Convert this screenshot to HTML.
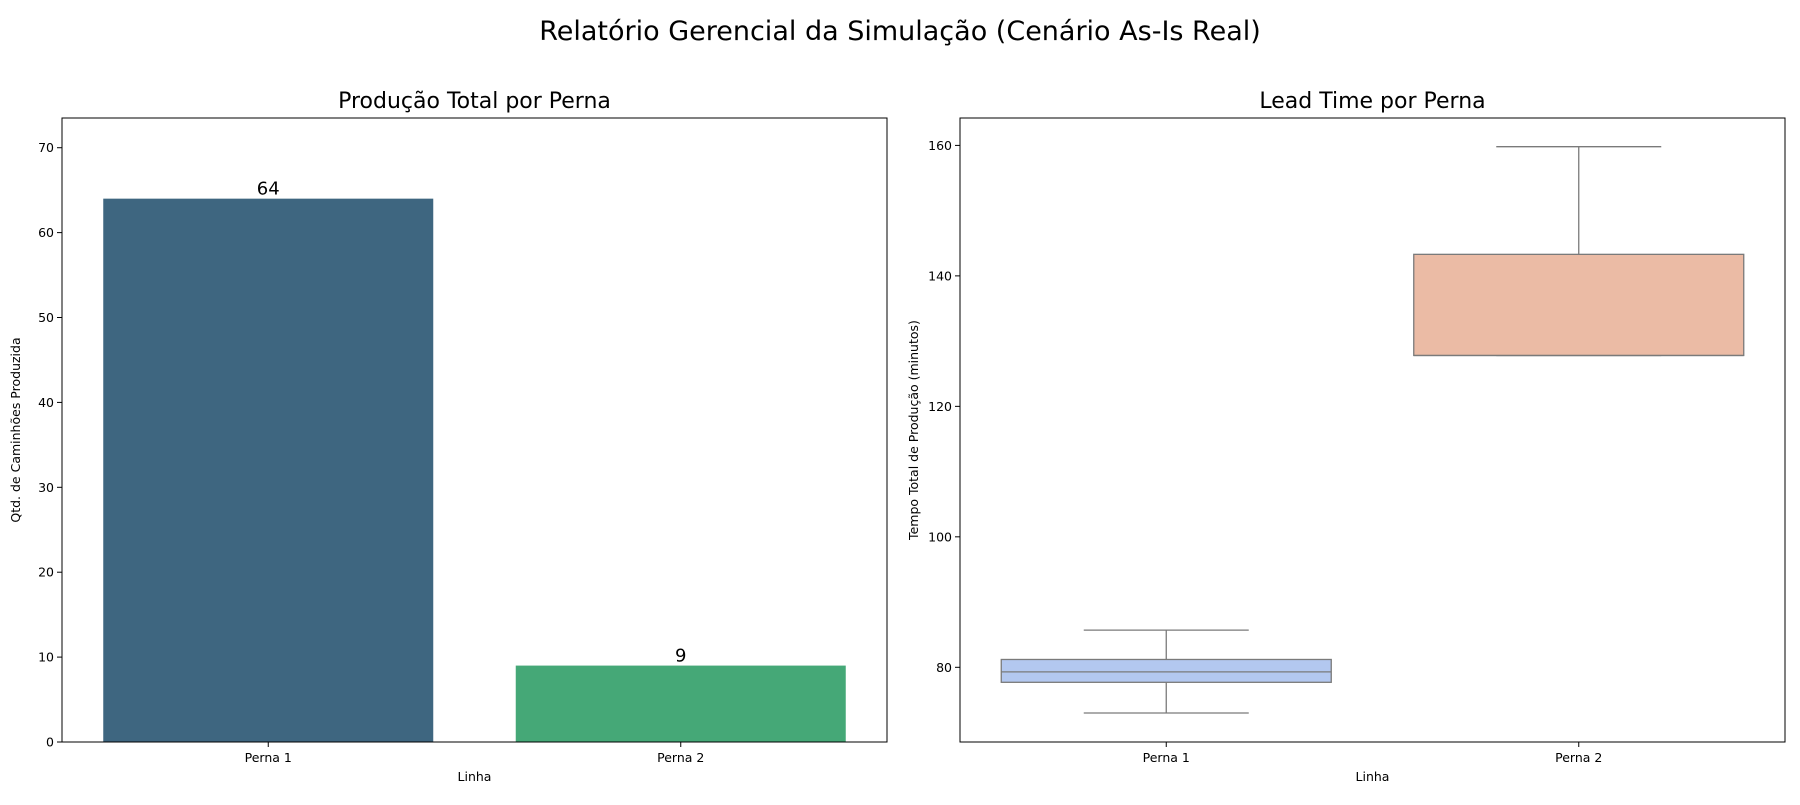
<!DOCTYPE html>
<html><head><meta charset="utf-8"><style>
body{margin:0;background:#fff;width:1800px;height:800px;overflow:hidden;font-family:"Liberation Sans","DejaVu Sans",sans-serif}
</style></head><body>
<svg id="c" width="1800" height="800" xmlns="http://www.w3.org/2000/svg" font-family="'DejaVu Sans','Liberation Sans',sans-serif">
<text x="900" y="40" text-anchor="middle" font-size="27">Relatório Gerencial da Simulação (Cenário As-Is Real)</text>
<g id="left"></g>
<g id="right"></g>
</svg>
<script>
const categories = ["Perna 1","Perna 2"];
const production = [64, 9];
const barColors = ["#3e6680","#45a877"];
const prodTicks = [0,10,20,30,40,50,60,70];
const boxMin = [73.0, 127.8];
const boxQ1 = [77.7, 127.8];
const boxMedian = [79.3, 127.8];
const boxQ3 = [81.2, 143.3];
const boxMax = [85.7, 159.8];
const boxColors = ["#b3c8f0","#ebbba5"];
const leadTicks = [80,100,120,140,160];

const NS="http://www.w3.org/2000/svg";
function mk(parent,tag,attrs,text){const e=document.createElementNS(NS,tag);for(const k in attrs)e.setAttribute(k,attrs[k]);if(text!==undefined)e.textContent=text;parent.appendChild(e);return e;}

function axes(g,x0,x1,y0,y1,ymin,ymax,ticks,ylabel,title){
  const ys=v=>y1-(v-ymin)/(ymax-ymin)*(y1-y0);
  const xs=i=>x0+(i+0.5)*(x1-x0)/categories.length;
  const t=mk(g,'text',{x:(x0+x1)/2,y:y0-10,'text-anchor':'middle','font-size':22},title);
  
  
  ticks.forEach(v=>{
    const l=mk(g,'line',{x1:x0-5,x2:x0,y1:ys(v),y2:ys(v),stroke:'#000'});
    
    
    const tx=mk(g,'text',{x:x0-8,y:ys(v)+4.5,'text-anchor':'end','font-size':12.5},String(v));
    
    
  });
  categories.forEach((c,i)=>{
    const l=mk(g,'line',{x1:xs(i),x2:xs(i),y1:y1,y2:y1+5,stroke:'#000'});
    
    
    const tx=mk(g,'text',{x:xs(i),y:y1+20,'text-anchor':'middle','font-size':12.5},c);
    
    
  });
  const xl=mk(g,'text',{x:(x0+x1)/2,y:y1+39,'text-anchor':'middle','font-size':12.5},'Linha');
  
  
  const cy=(y0+y1)/2, cx=x0-42;
  const yl=mk(g,'text',{x:cx,y:cy,'text-anchor':'middle','font-size':12.5,transform:`rotate(-90 ${cx} ${cy})`},ylabel);
  
  
  return {ys,xs,bw:(x1-x0)/categories.length*0.8};
}

// Left bar chart
const L={x0:62,x1:887,y0:118,y1:742};
const gl=document.getElementById('left');
const al=axes(gl,L.x0,L.x1,L.y0,L.y1,0,73.5,prodTicks,'Qtd. de Caminhões Produzida','Produção Total por Perna');
production.forEach((v,i)=>{
  const r=mk(gl,'rect',{x:al.xs(i)-al.bw/2,y:al.ys(v),width:al.bw,height:al.ys(0)-al.ys(v),fill:barColors[i]});
  
  
  const t=mk(gl,'text',{x:al.xs(i),y:al.ys(v)-4,'text-anchor':'middle','font-size':18},String(v));
  
  
});
const fl=mk(gl,'rect',{x:L.x0,y:L.y0,width:L.x1-L.x0,height:L.y1-L.y0,fill:'none',stroke:'#000','stroke-width':1});



// Right box plot
const R={x0:960,x1:1785,y0:118,y1:742};
const gr=document.getElementById('right');
const ar=axes(gr,R.x0,R.x1,R.y0,R.y1,68.55,164.2,leadTicks,'Tempo Total de Produção (minutos)','Lead Time por Perna');
categories.forEach((c,i)=>{
  const cx=ar.xs(i),hw=ar.bw/2,cap=ar.bw/4,s='#7a7a7a';
  const g=mk(gr,'g',{});
  
  
  mk(g,'line',{x1:cx,x2:cx,y1:ar.ys(boxMax[i]),y2:ar.ys(boxQ3[i]),stroke:s,'stroke-width':1.3});
  mk(g,'line',{x1:cx,x2:cx,y1:ar.ys(boxQ1[i]),y2:ar.ys(boxMin[i]),stroke:s,'stroke-width':1.3});
  mk(g,'line',{x1:cx-cap,x2:cx+cap,y1:ar.ys(boxMax[i]),y2:ar.ys(boxMax[i]),stroke:s,'stroke-width':1.3});
  mk(g,'line',{x1:cx-cap,x2:cx+cap,y1:ar.ys(boxMin[i]),y2:ar.ys(boxMin[i]),stroke:s,'stroke-width':1.3});
  mk(g,'rect',{x:cx-hw,y:ar.ys(boxQ3[i]),width:ar.bw,height:ar.ys(boxQ1[i])-ar.ys(boxQ3[i]),fill:boxColors[i],stroke:s,'stroke-width':1.3});
  mk(g,'line',{x1:cx-hw,x2:cx+hw,y1:ar.ys(boxMedian[i]),y2:ar.ys(boxMedian[i]),stroke:s,'stroke-width':1.3});
});
const fr=mk(gr,'rect',{x:R.x0,y:R.y0,width:R.x1-R.x0,height:R.y1-R.y0,fill:'none',stroke:'#000','stroke-width':1});


</script>
</body></html>
